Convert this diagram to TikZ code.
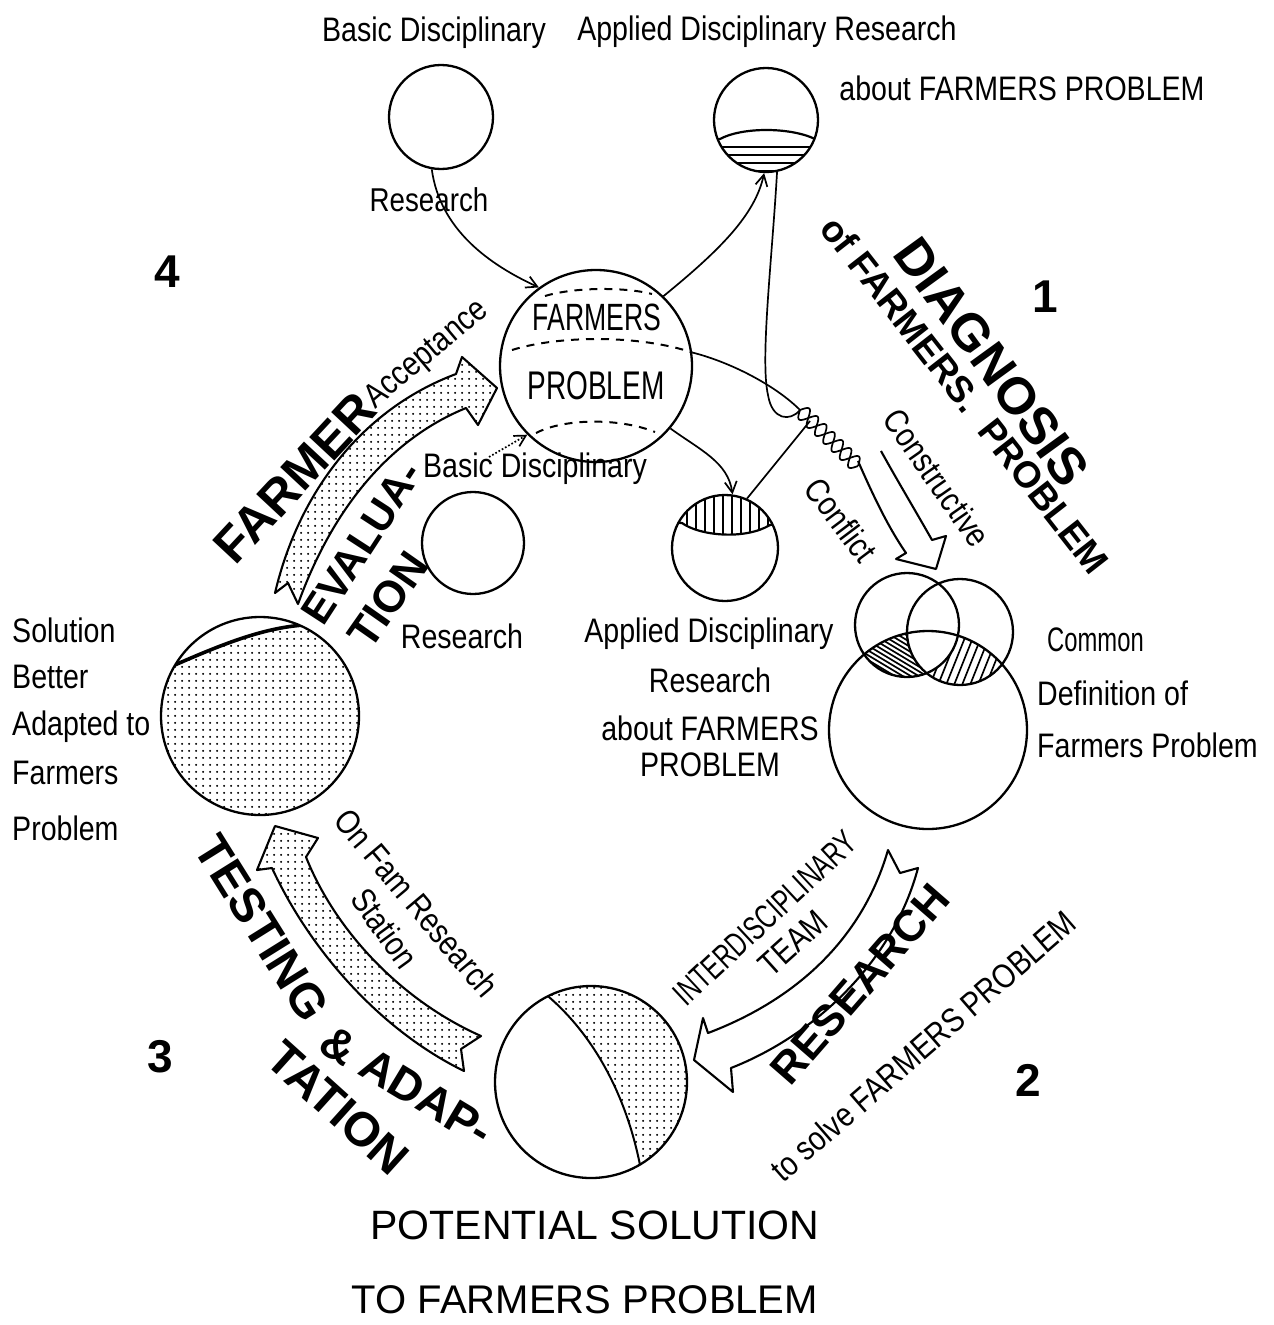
\documentclass[tikz,border=0pt]{standalone}
\usepackage{fontspec}
\setmainfont{Liberation Sans}
\newfontfamily\hand[FakeStretch=0.84]{Liberation Sans}
\newfontfamily\handc[FakeStretch=0.7]{Liberation Sans}
\newfontfamily\heavy{Liberation Sans}
\usetikzlibrary{arrows.meta,patterns}
\newcommand\setsz[1]{\fontsize{#1}{#1}\selectfont}
% fine dot screen used for the shaded areas
\pgfdeclarepatternformonly{stipple}{\pgfpointorigin}{\pgfpoint{6.6pt}{6.6pt}}{\pgfpoint{6.6pt}{6.6pt}}%
{\pgfpathcircle{\pgfpoint{3.3pt}{3.3pt}}{1.15pt}\pgfusepath{fill}}
\begin{document}
\begin{tikzpicture}[x=1pt,y=-1pt,
  every node/.style={inner sep=0pt},
  disc/.style={circle, draw, line width=2.3pt, inner sep=0pt},
  txt/.style={font={\hand\setsz{34}}},
  bigword/.style={font={\heavy\bfseries}},
  wire/.style={line width=1.7pt},
  arr/.style={-{Straight Barb[length=11pt,width=12pt,line width=1.7pt]}},
  stip/.style={pattern=stipple},
  ribbon/.style={line width=2.1pt, line join=round}]
\fill[white] (0,0) rectangle (1274,1325);
\useasboundingbox (0,0) rectangle (1274,1325);

% ---------- shaded and hatched parts of the circles ----------
% solution circle: dotted except for a small white cap
\begin{scope}
  \clip (260,716) circle[radius=99pt];
  \fill[stip] (260,716) circle[radius=99pt];
  \fill[white] (168,668) .. controls (220,645) and (262,628) .. (304,625) -- (380,600) -- (380,560) -- (120,560) -- (120,668) -- cycle;
  \draw[line width=3.6pt] (168,668) .. controls (220,645) and (262,628) .. (304,625);
\end{scope}
% potential solution: dotted crescent on the right
\begin{scope}
  \clip (591,1082) circle[radius=96pt];
  \fill[stip] (530,960) -- (543,992) .. controls (590,1030) and (625,1090) .. (640,1165) -- (640,1200) -- (720,1200) -- (720,960) -- cycle;
  \draw[line width=2pt] (543,992) .. controls (590,1030) and (625,1090) .. (640,1165);
\end{scope}
% applied research (top): horizontal hatching in the lower part
\begin{scope}
  \clip (766,120) circle[radius=52pt];
  \begin{scope}
    \clip (700,141) -- (720,139) .. controls (742,127) and (790,127) .. (815,139) -- (830,141) -- (830,200) -- (700,200) -- cycle;
    \foreach \yy in {147,155,...,180} \draw[line width=2.2pt] (700,\yy) -- (830,\yy);
  \end{scope}
  \draw[line width=2.2pt] (700,141) -- (720,139) .. controls (742,127) and (790,127) .. (815,139) -- (830,141);
\end{scope}
% applied research (middle): vertical hatching in the upper cap
\begin{scope}
  \clip (725,548) circle[radius=53pt];
  \begin{scope}
    \clip (660,480) -- (660,522) -- (682,523) .. controls (700,536) and (745,540) .. (770,525) -- (790,522) -- (790,480) -- cycle;
    \foreach \xx in {678,687,...,780} \draw[line width=1.9pt] (\xx,480) -- (\xx,545);
  \end{scope}
  \draw[line width=2.2pt] (660,522) -- (682,523) .. controls (700,536) and (745,540) .. (770,525) -- (790,522);
\end{scope}
% common definition: hatched overlaps of the two views with the big circle
\begin{scope}
  \clip (907,625) circle[radius=52pt];
  \clip (928,730) circle[radius=99pt];
  \begin{scope}[even odd rule]
    \clip (960,632) circle[radius=53pt] (700,500) rectangle (1100,900);
    \foreach \k in {0,...,40} \draw[line width=1.7pt] ({640+\k*8},600) -- ++(200,120);
  \end{scope}
\end{scope}
\begin{scope}
  \clip (960,632) circle[radius=53pt];
  \clip (928,730) circle[radius=99pt];
  \begin{scope}[even odd rule]
    \clip (907,625) circle[radius=52pt] (700,500) rectangle (1100,900);
    \foreach \k in {0,...,30} \draw[line width=1.7pt] ({860+\k*8},720) -- ++(50,-125);
  \end{scope}
\end{scope}

% ---------- circles ----------
\node[disc, minimum size=104pt] (basicT) at (441,117) {};
\node[disc, minimum size=104pt] (applT) at (766,120) {};
\node[disc, minimum size=192pt] (fp) at (596,366) {};
\node[disc, minimum size=102pt] (basicB) at (473,543) {};
\node[disc, minimum size=106pt] (applB) at (725,548) {};
\node[disc, minimum size=104pt] (vA) at (907,625) {};
\node[disc, minimum size=106pt] (vB) at (960,632) {};
\node[disc, minimum size=198pt] (vC) at (928,730) {};
\node[disc, minimum size=198pt] (sol) at (260,716) {};
\node[disc, minimum size=192pt] (pot) at (591,1082) {};

% dashed bands inside the farmers problem circle
\begin{scope}[line width=2pt, dash pattern=on 8pt off 7pt]
  \draw (545,296) .. controls (575,287) and (625,287) .. (652,294);
  \draw (512,350) .. controls (560,335) and (640,335) .. (fp.8);
  \draw (536,433) .. controls (565,418) and (620,418) .. (655,432);
\end{scope}

% ---------- connectors ----------
\coordinate (r0) at (800,410);
\coordinate (r1) at (858,466);
\coordinate (rj) at (810,421);
\coordinate (dotstart) at (489,457);
\draw[wire, arr] (basicT.-100) .. controls (440,230) and (490,265) .. (fp.126);
\draw[wire, arr] (fp.46) .. controls (720,250) and (755,215) .. (applT.-92);
\draw[wire] (applT.-78) .. controls (772,260) and (760,360) .. (768,395) .. controls (772,420) and (790,422) .. (r0);
\draw[wire] (fp.8) .. controls (730,362) and (775,385) .. (r0);
% twisted pair between the two views
\draw[wire] plot[domain=0:1, samples=90] ({800+58*\x-0.69*7.5*sin(1260*\x)}, {410+56*\x+0.72*7.5*sin(1260*\x)});
\draw[wire] plot[domain=0:1, samples=90] ({800+58*\x+0.69*7.5*sin(1260*\x)}, {410+56*\x-0.72*7.5*sin(1260*\x)});
\draw[wire] (rj) -- (applB.66);
\draw[wire, arr] (fp.-40) .. controls (700,450) and (728,462) .. (applB.82);
\draw[wire, dotted, arr] (dotstart) -- (fp.-135);

% ---------- broad curved arrows ----------
% farmer acceptance
\draw[ribbon, stip] (275,593) .. controls (298,495) and (360,410) .. (456,374) -- (462,357) -- (497,388) -- (478,425) -- (466,408) .. controls (388,440) and (332,510) .. (298,604) -- (288,583) -- cycle;
% on farm research station
\draw[ribbon, stip] (275,826) -- (318,838) -- (306,857) .. controls (335,930) and (400,1000) .. (481,1036) -- (461,1049) -- (464,1071) .. controls (380,1030) and (310,950) .. (272,868) -- (257,870) -- cycle;
% interdisciplinary team
\draw[ribbon, fill=white] (888,850) .. controls (862,940) and (795,1000) .. (708,1033) -- (703,1018) -- (694,1060) -- (733,1092) -- (731,1068) .. controls (815,1035) and (893,962) .. (918,868) -- (900,873) -- cycle;
% constructive conflict
\draw[ribbon] (858,461) .. controls (875,500) and (890,530) .. (906,553) -- (896,559) -- (936,569) -- (946,536) -- (932,540) .. controls (915,510) and (897,480) .. (881,451);

% ---------- labels ----------
\node[txt] (tBasic) at (434,33) {Basic Disciplinary};
\node[txt] (tApplied) at (767,32) {Applied Disciplinary Research};
\node[txt] (tAbout) at (1022,88) {about FARMERS PROBLEM};
\node[txt, font={\hand\setsz{33}}] (tRes) at (429,200) {Research};
\node[font={\handc\setsz{38}}] (tFarmers) at (597,317) {FARMERS};
\node[font={\handc\setsz{40}}] (tProblem) at (596,386) {PROBLEM};
\node[txt] (bBasic) at (535,469) {Basic Disciplinary};
\node[txt] (bRes) at (462,636) {Research};
\node[txt] (mA1) at (709,634) {Applied Disciplinary};
\node[txt] (mA2) at (710,680) {Research};
\node[txt] (mA3) at (710,728) {about FARMERS};
\node[txt] (mA4) at (710,765) {PROBLEM};
\node[font={\handc\setsz{34}}, anchor=west] (c1) at (1047,640) {Common};
\node[txt, anchor=west] (c2) at (1037,693) {Definition of};
\node[txt, anchor=west] (c3) at (1037,745) {Farmers Problem};
\node[txt, anchor=west] (s1) at (12,630) {Solution};
\node[txt, anchor=west] (s2) at (12,677) {Better};
\node[txt, anchor=west] (s3) at (12,727) {Adapted to};
\node[txt, anchor=west] (s4) at (12,773) {Farmers};
\node[txt, anchor=west] (s5) at (12,828) {Problem};
\node[font={\setsz{41}}] (p1) at (595,1225) {POTENTIAL SOLUTION};
\node[font={\setsz{40}}] (p2) at (585,1300) {TO FARMERS PROBLEM};

\node[bigword] (n4) at (167,272) {\setsz{46}4};
\node[bigword] (n1) at (1045,297) {\setsz{46}1};
\node[bigword] (n3) at (160,1057) {\setsz{46}3};
\node[bigword] (n2) at (1028,1080) {\setsz{46}2};

\node[bigword, rotate=-54] (diag) at (992,362) {\setsz{52}DIAGNOSIS};
\node[bigword, rotate=-52] (offp) at (965,395) {\setsz{37}of FARMERS.\ \ PROBLEM};
\node[txt, rotate=-55] (constr) at (937,478) {Constructive};
\node[txt, rotate=-53] (confl) at (841,520) {Conflict};
\node[bigword, rotate=47] (farmer) at (295,478) {\setsz{50}FARMER};
\node[txt, rotate=40] (accept) at (427,355) {Acceptance};
\node[bigword, rotate=57] (eval) at (362,543) {\setsz{42}EVALUA-};
\node[bigword, rotate=55] (tion) at (388,600) {\setsz{44}TION};
\node[bigword, rotate=-58] (testing) at (262,928) {\setsz{48}TESTING};
\node[bigword, rotate=-31] (adap) at (407,1086) {\setsz{46}\& ADAP-};
\node[bigword, rotate=-42] (tation) at (338,1108) {\setsz{48}TATION};
\node[txt, rotate=-50] (onfarm) at (417,903) {On Fam Research};
\node[txt, rotate=-54] (station) at (385,928) {Station};
\node[bigword, rotate=49] (research) at (860,984) {\setsz{44}RESEARCH};
\node[txt, rotate=41] (solve) at (923,1046) {to solve FARMERS PROBLEM};
\node[font={\handc\setsz{34}}, rotate=43] (inter) at (765,918) {INTERDISCIPLINARY};
\node[txt, rotate=42] (team) at (793,943) {TEAM};
\end{tikzpicture}
\end{document}
